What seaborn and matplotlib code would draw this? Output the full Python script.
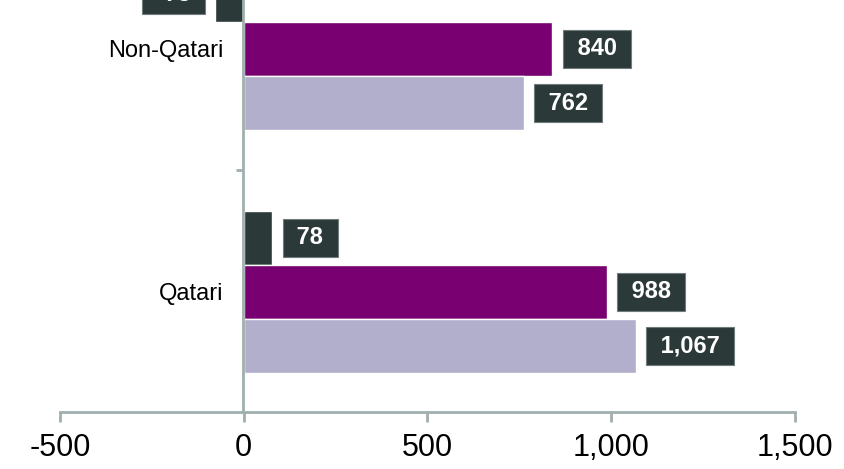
import pandas as pd
import numpy as np
import matplotlib
matplotlib.use("Agg")
import matplotlib.pyplot as plt
import seaborn as sns
from matplotlib.ticker import FixedLocator

# data
groups = ["Non-Qatari", "Qatari"]
series = ["change", "later", "earlier"]
change_vals = [-78, 78]
later_vals = [840, 988]
earlier_vals = [762, 1067]
xticks = [-500, 0, 500, 1000, 1500]
xtick_labels = ["-500", "0", "500", "1,000", "1,500"]

df = pd.DataFrame({
    "group": groups * 3,
    "series": [series[0]] * 2 + [series[1]] * 2 + [series[2]] * 2,
    "value": change_vals + later_vals + earlier_vals,
})

sns.set_style("white")
plt.rcParams["font.family"] = ["Liberation Sans", "DejaVu Sans"]
plt.rcParams["text.color"] = "black"
plt.rcParams["xtick.labelcolor"] = "black"
plt.rcParams["ytick.labelcolor"] = "black"

palette = {"change": "#2b3a39", "later": "#780070", "earlier": "#b1afcc"}
spine_col = "#9fb0af"

fig = plt.figure(figsize=(8.45, 4.69), dpi=100)
ax = fig.add_axes([60 / 845, 1 - 412 / 469, 735 / 845, 412 / 469])

sns.barplot(data=df, y="group", x="value", hue="series", order=groups,
            hue_order=series, palette=palette, orient="h", width=0.667,
            saturation=1, legend=False, ax=ax)

ax.set_xlim(-500, 1500)
ax.set_ylim(1.494, -0.2016)
ax.set_xlabel("")
ax.set_ylabel("")

# value labels in dark boxes
for cont in ax.containers:
    labs = [" " + format(int(round(v)), ",") + " " for v in cont.datavalues]
    ax.bar_label(cont, labels=labs, padding=13, color="white", fontsize=17,
                 fontweight="bold", annotation_clip=False,
                 bbox=dict(boxstyle="square,pad=0.32", fc="#2b3a39",
                           ec="#6f7c7b", lw=0.8))

# spines
for s in ["top", "right"]:
    ax.spines[s].set_visible(False)
ax.spines["left"].set_position(("data", -2))
for s in ["left", "bottom"]:
    ax.spines[s].set_color(spine_col)
    ax.spines[s].set_linewidth(2)

ax.set_xticks(xticks)
ax.set_xticklabels(xtick_labels)
ax.tick_params(axis="x", which="major", direction="out", length=7, width=2,
               color=spine_col, labelsize=22, pad=8, bottom=True)

ax.yaxis.set_minor_locator(FixedLocator([0.5]))
ax.tick_params(axis="y", which="major", length=0, labelsize=17, pad=14)
ax.tick_params(axis="y", which="minor", direction="out", length=5, width=2,
               color=spine_col, left=True)

fig.savefig("out.png", dpi=100)
